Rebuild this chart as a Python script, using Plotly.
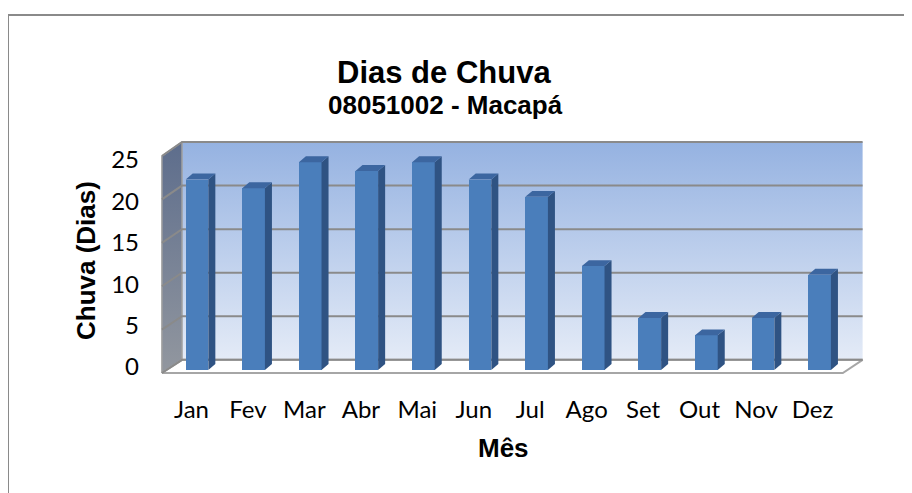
import plotly.graph_objects as go

# ---- data ----
meses = ["Jan", "Fev", "Mar", "Abr", "Mai", "Jun", "Jul", "Ago", "Set", "Out", "Nov", "Dez"]
chuva = [22, 21, 24, 23, 24, 22, 20, 12, 6, 4, 6, 11]
y_ticks = [0, 5, 10, 15, 20, 25]

# ---- 3D-look styling (in axis units) ----
W = 0.4          # bar width
DX, DY = 0.124, 0.69   # bar depth offset
BASE = 0.35      # bars stand at mid-depth of the floor
XLF, XLB = -0.62, -0.265   # left wall front/back x
XRF, XRB = 11.41, 11.76    # floor right front/back x
DYB = 1.52                 # back-wall vertical offset
TOPF, TOPB = 25.07, 26.69  # wall top front/back

GRID = "#8a8a8a"
FRONT, SIDE, TOP = "#4a7ebb", "#2f5383", "#3c66a0"

x = list(range(len(meses)))
fig = go.Figure()

# back wall with gradient
fig.add_trace(go.Scatter(
    x=[XLB, XRB, XRB, XLB, XLB], y=[DYB, DYB, TOPB, TOPB, DYB],
    mode="lines", line=dict(width=0), fill="toself",
    fillgradient=dict(type="vertical", colorscale=[[0, "#e4ebf7"], [1, "#95b2e1"]]),
    hoverinfo="skip", showlegend=False))
# left side wall
fig.add_trace(go.Scatter(
    x=[XLF, XLB, XLB, XLF, XLF], y=[0, DYB, TOPB, TOPF, 0],
    mode="lines", line=dict(width=1.5, color="#a0a0a0"), fill="toself",
    fillgradient=dict(type="vertical", colorscale=[[0, "#92979f"], [1, "#5d6d8c"]]),
    hoverinfo="skip", showlegend=False))
# floor
fig.add_trace(go.Scatter(
    x=[XLF, XRF, XRB, XLB, XLF], y=[0, 0, DYB, DYB, 0],
    mode="lines", line=dict(width=2, color="#a6a6a6"), fill="toself", fillcolor="white",
    hoverinfo="skip", showlegend=False))
# gridlines on back wall and side wall
gx, gy = [], []
for t in y_ticks:
    yb = DYB + t * (TOPB - DYB) / 25
    yf = t * TOPF / 25
    gx += [XLF, XLB, XRB, None]
    gy += [yf, yb, yb, None]
fig.add_trace(go.Scatter(x=gx, y=gy, mode="lines", line=dict(width=2, color=GRID),
                         hoverinfo="skip", showlegend=False))

# bars (overlay axes so they sit above the walls)
fig.add_trace(go.Bar(x=x, y=chuva, base=BASE, width=W, marker=dict(color=FRONT, line=dict(width=0)),
                     xaxis="x2", yaxis="y2", showlegend=False))
sx, sy, tx, ty = [], [], [], []
for i, v in zip(x, chuva):
    xr = i + W / 2
    xl = i - W / 2
    sx += [xr, xr + DX, xr + DX, xr, xr, None]
    sy += [BASE, BASE + DY, BASE + v + DY, BASE + v, BASE, None]
    tx += [xl, xr, xr + DX, xl + DX, xl, None]
    ty += [BASE + v, BASE + v, BASE + v + DY, BASE + v + DY, BASE + v, None]
fig.add_trace(go.Scatter(x=sx, y=sy, mode="lines", line=dict(width=0), fill="toself", fillcolor=SIDE,
                         xaxis="x2", yaxis="y2", hoverinfo="skip", showlegend=False))
fig.add_trace(go.Scatter(x=tx, y=ty, mode="lines", line=dict(width=0), fill="toself", fillcolor=TOP,
                         xaxis="x2", yaxis="y2", hoverinfo="skip", showlegend=False))

XR = [-0.7244, 11.9965]
YR = [-1.5, 29]
tick_font = dict(family="Lato, Carlito, sans-serif", size=24, color="black")
bold = "Liberation Sans, Arial, sans-serif"

# page pixel -> paper coordinates (plot area sits at page x 156..876, y 122..386)
def px(p):
    return (p - 156) / 720

def py(p):
    return (386 - p) / 264

fig.update_layout(
    width=912, height=493, autosize=False,
    margin=dict(l=148, r=44, t=114, b=115),   # page body has an 8px margin
    paper_bgcolor="white", plot_bgcolor="rgba(0,0,0,0)",
    xaxis=dict(range=XR, showgrid=False, zeroline=False, showline=False,
               tickvals=[-0.097 + 0.9974 * i for i in x], ticktext=meses,
               tickfont=tick_font, ticks="", ticklabelstandoff=7),
    yaxis=dict(range=YR, showgrid=False, zeroline=False, showline=False,
               tickvals=[0.69 + 0.9566 * t for t in y_ticks], ticktext=[str(t) for t in y_ticks],
               tickfont=tick_font, ticks="", ticklabelstandoff=16),
    xaxis2=dict(range=XR, overlaying="x", anchor="y2", visible=False, matches="x"),
    yaxis2=dict(range=YR, overlaying="y", anchor="x2", visible=False, matches="y"),
    bargap=0,
    annotations=[
        dict(text="<b>Dias de Chuva</b>", xref="paper", yref="paper",
             x=px(443.5), y=py(72.5), xanchor="center", yanchor="middle",
             showarrow=False, font=dict(family=bold, size=31, color="black")),
        dict(text="<b>08051002 - Macapá</b>", xref="paper", yref="paper",
             x=px(445), y=py(105), xanchor="center", yanchor="middle",
             showarrow=False, font=dict(family=bold, size=26, color="black")),
        dict(text="<b>Mês</b>", xref="paper", yref="paper",
             x=px(503), y=py(448), xanchor="center", yanchor="middle",
             showarrow=False, font=dict(family=bold, size=26, color="black")),
        dict(text="<b>Chuva (Dias)</b>", xref="paper", yref="paper", textangle=-90,
             x=px(86), y=py(261), xanchor="center", yanchor="middle",
             showarrow=False, font=dict(family=bold, size=26, color="black")),
    ],
    shapes=[
        dict(type="line", xref="paper", yref="paper",
             x0=px(8), y0=py(15), x1=px(930), y1=py(15),
             line=dict(color="#8a8a8a", width=2)),
        dict(type="line", xref="paper", yref="paper",
             x0=px(8), y0=py(15), x1=px(8), y1=py(520),
             line=dict(color="#8a8a8a", width=2)),
    ],
)

fig.write_html("out.html")
